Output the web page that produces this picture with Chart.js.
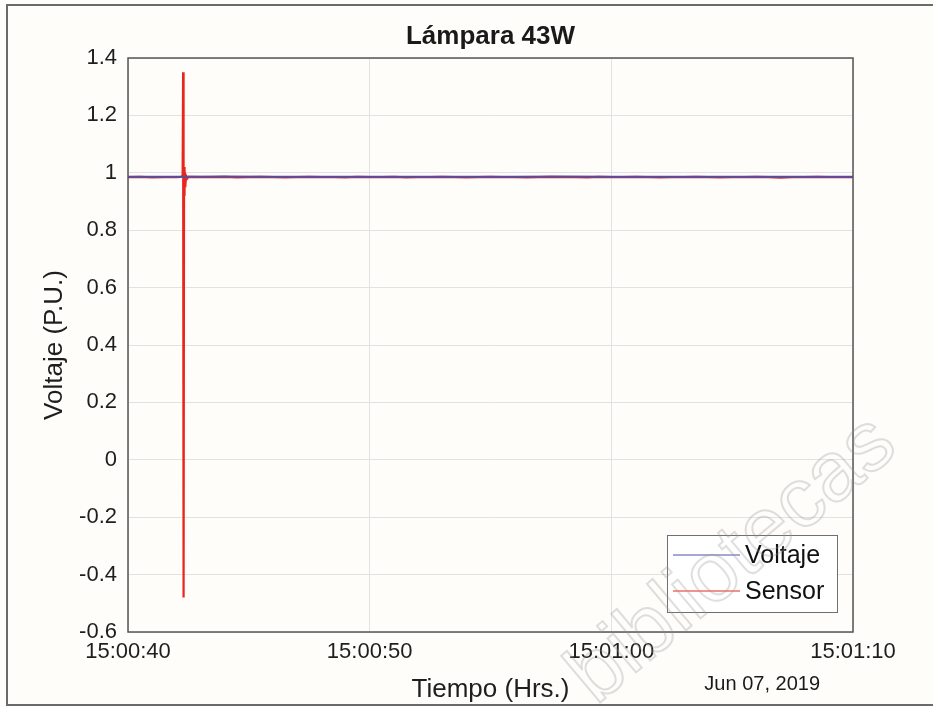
<!DOCTYPE html>
<html>
<head>
<meta charset="utf-8">
<script src="https://cdn.jsdelivr.net/npm/chart.js@4/dist/chart.umd.min.js"></script>
<style>
  html, body { margin: 0; padding: 0; background: #fefdfa; }
  #wrap { position: relative; width: 933px; height: 707px; }
  canvas { display: block; }
</style>
</head>
<body>
<div id="wrap"><canvas id="chart" width="933" height="707"></canvas></div>
<script>
// seconds after 15:00:40
const xTickLabels = ['15:00:40', '15:00:50', '15:01:00', '15:01:10'];
const yTicks = [-0.6, -0.4, -0.2, 0, 0.2, 0.4, 0.6, 0.8, 1, 1.2, 1.4];

const voltajeTime = [0, 2, 4, 6, 8, 10, 12, 14, 16, 18, 20, 22, 24, 26, 28, 30];
const voltajeVals = [0.986, 0.986, 0.987, 0.986, 0.986, 0.986, 0.986, 0.986, 0.986, 0.987, 0.986, 0.986, 0.986, 0.986, 0.986, 0.986];

const sensorTime = [
  0, 0.5, 1, 1.5, 2, 2.2, 2.26, 2.28, 2.29, 2.3, 2.31, 2.32, 2.33, 2.35, 2.37, 2.4, 2.45, 2.5,
  3, 3.5, 4, 4.5, 5, 5.5, 6, 6.5, 7, 7.5, 8, 8.5, 9, 9.5, 10, 10.5, 11, 11.5, 12, 12.5,
  13, 13.5, 14, 14.5, 15, 15.5, 16, 16.5, 17, 17.5, 18, 18.5, 19, 19.5, 20, 20.5, 21, 21.5,
  22, 22.5, 23, 23.5, 24, 24.5, 25, 25.5, 26, 26.5, 27, 27.5, 28, 28.5, 29, 29.5, 30
];
const sensorVals = [
  0.985, 0.986, 0.984, 0.985, 0.985, 0.986, 0.99, 1.35, 0.93, 1.27, -0.48, 1.02, 0.92, 1.01, 0.95, 0.99, 0.98, 0.986,
  0.985, 0.985, 0.986, 0.984, 0.985, 0.986, 0.985, 0.984, 0.985, 0.986, 0.985, 0.985, 0.984, 0.986, 0.985, 0.985, 0.986, 0.984,
  0.985, 0.985, 0.986, 0.985, 0.984, 0.985, 0.986, 0.985, 0.985, 0.984, 0.985, 0.986, 0.985, 0.985, 0.984, 0.986, 0.985, 0.985,
  0.986, 0.985, 0.984, 0.985, 0.985, 0.986, 0.985, 0.984, 0.985, 0.985, 0.986, 0.985, 0.983, 0.985, 0.985, 0.986, 0.985, 0.985, 0.985
];

const FONT = 'Liberation Sans, Arial, Helvetica, sans-serif';
const toXY = (ts, vs) => ts.map((t, i) => ({ x: t, y: vs[i] }));

// frame, axes box, title, legend, date stamp, watermark
const decor = {
  id: 'decor',
  afterDatasetsDraw(chart) {
    const { ctx, chartArea: a } = chart;
    ctx.save();
    ctx.strokeStyle = '#555555';
    ctx.lineWidth = 1.5;
    ctx.strokeRect(a.left, a.top, a.right - a.left, a.bottom - a.top);
    ctx.restore();
  },
  afterDraw(chart) {
    const { ctx, chartArea: a } = chart;
    ctx.save();
    // outer frame
    ctx.strokeStyle = '#6a6a6a';
    ctx.lineWidth = 2;
    ctx.beginPath();
    ctx.moveTo(933, 5); ctx.lineTo(7, 5); ctx.lineTo(7, 705); ctx.lineTo(933, 705);
    ctx.stroke();

    // title
    ctx.fillStyle = '#1a1a1a';
    ctx.font = 'bold 26px ' + FONT;
    ctx.textAlign = 'center';
    ctx.textBaseline = 'middle';
    ctx.fillText('Lámpara 43W', (a.left + a.right) / 2, 37);

    // date stamp
    ctx.font = '20px ' + FONT;
    ctx.textAlign = 'right';
    ctx.fillText('Jun 07, 2019', a.right - 33, 684);

    // legend
    const lx = a.right - 186, ly = a.bottom - 97, lw = 170, lh = 77;
    ctx.fillStyle = '#ffffff';
    ctx.fillRect(lx, ly, lw, lh);
    ctx.strokeStyle = '#707070';
    ctx.lineWidth = 1;
    ctx.strokeRect(lx + 0.5, ly + 0.5, lw, lh);
    chart.data.datasets.forEach((ds, i) => {
      const yy = ly + 20 + i * 36;
      ctx.strokeStyle = ds.borderColor;
      ctx.lineWidth = 1.2;
      ctx.beginPath();
      ctx.moveTo(lx + 6, yy); ctx.lineTo(lx + 73, yy);
      ctx.stroke();
      ctx.fillStyle = '#111';
      ctx.font = '25px ' + FONT;
      ctx.textAlign = 'left';
      ctx.textBaseline = 'middle';
      ctx.fillText(ds.label, lx + 78, yy + 1);
    });

    // watermark
    ctx.translate(596, 706);
    ctx.rotate(-40 * Math.PI / 180);
    ctx.font = '84px ' + FONT;
    ctx.textAlign = 'left';
    ctx.textBaseline = 'alphabetic';
    ctx.strokeStyle = 'rgba(150,150,150,0.3)';
    ctx.lineWidth = 2;
    ctx.strokeText('bibliotecas', 0, 0);
    ctx.restore();
  }
};

new Chart(document.getElementById('chart').getContext('2d'), {
  type: 'line',
  data: {
    datasets: [
      {
        label: 'Voltaje',
        data: toXY(voltajeTime, voltajeVals),
        borderColor: '#5050a8',
        borderWidth: 2,
        pointRadius: 0,
        tension: 0
      },
      {
        label: 'Sensor',
        data: toXY(sensorTime, sensorVals),
        borderColor: '#e8261e',
        borderWidth: 2.2,
        pointRadius: 0,
        tension: 0
      }
    ]
  },
  options: {
    responsive: false,
    animation: false,
    events: [],
    layout: { padding: { left: 0, top: 58, right: 80, bottom: 0 } },
    plugins: {
      legend: { display: false },
      title: { display: false },
      tooltip: { enabled: false }
    },
    scales: {
      x: {
        type: 'linear',
        min: 0,
        max: 30,
        afterFit: s => { s.height = 75; },
        afterBuildTicks: s => { s.ticks = [0, 10, 20, 30].map(v => ({ value: v })); },
        ticks: {
          callback: v => xTickLabels[Math.round(v / 10)],
          font: { family: FONT, size: 22 },
          color: '#1e1e1e',
          padding: 7,
          maxRotation: 0,
          autoSkip: false
        },
        grid: { color: '#e2e2e2', drawTicks: false, lineWidth: 1 },
        border: { display: false },
        title: {
          display: true,
          text: 'Tiempo (Hrs.)',
          font: { family: FONT, size: 26 },
          color: '#1e1e1e',
          padding: { top: 0, bottom: 2 }
        }
      },
      y: {
        type: 'linear',
        min: -0.6,
        max: 1.4,
        afterFit: s => { s.width = 128; },
        afterBuildTicks: s => { s.ticks = yTicks.map(v => ({ value: v })); },
        ticks: {
          callback: v => String(+v.toFixed(1)),
          font: { family: FONT, size: 22 },
          color: '#1e1e1e',
          padding: 11,
          autoSkip: false
        },
        grid: { color: '#e2e2e2', drawTicks: false, lineWidth: 1 },
        border: { display: false },
        title: {
          display: true,
          text: 'Voltaje (P.U.)',
          font: { family: FONT, size: 26 },
          color: '#1e1e1e',
          padding: { top: 39, bottom: 0 }
        }
      }
    }
  },
  plugins: [decor]
});
</script>
</body>
</html>
